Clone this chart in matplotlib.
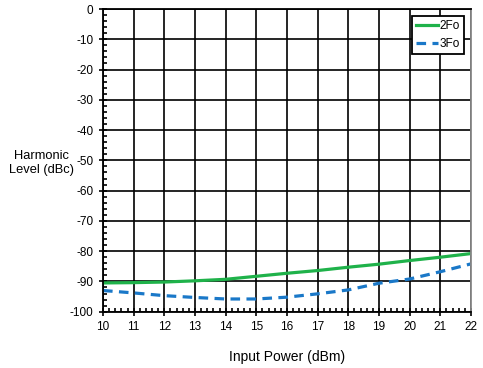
import matplotlib.pyplot as plt
from matplotlib.ticker import MultipleLocator

plt.rcParams["font.family"] = ["Liberation Sans", "DejaVu Sans"]
plt.rcParams["axes.unicode_minus"] = False

GREEN = "#1fb24a"
BLUE = "#1a78c8"

power = [10, 11, 12, 13, 14, 15, 16, 17, 18, 19, 20, 21, 22]
h2 = [-90.5, -90.4, -90.2, -89.8, -89.3, -88.3, -87.3, -86.4, -85.3, -84.3, -83.1, -82.0, -80.8]
h3 = [-93.0, -93.8, -94.7, -95.3, -95.8, -95.8, -95.2, -94.1, -92.8, -90.6, -89.2, -86.8, -84.2]
yticks = list(range(-100, 1, 10))


def main():
    fig = plt.figure(figsize=(4.83, 3.68), dpi=100)
    ax = fig.add_axes([0.2133, 0.153, 0.7617, 0.8225])

    ax.plot(power, h2, color=GREEN, linewidth=2.3, label="2Fo")
    ax.plot(power, h3, color=BLUE, linewidth=2.3, linestyle=(0, (3, 2)), label="3Fo")

    ax.set_xlim(10, 22)
    ax.set_ylim(-100, 0)
    ax.set_xticks(power)
    ax.set_yticks(yticks)
    ax.xaxis.set_minor_locator(MultipleLocator(0.2))
    ax.yaxis.set_minor_locator(MultipleLocator(2))
    ax.grid(True, which="major", color="black", linewidth=1.2)
    ax.tick_params(which="major", direction="inout", length=6, width=1.2, labelsize=8.5,
                   pad=4, top=False, right=False)
    ax.tick_params(which="minor", direction="in", length=3, width=1.2,
                   top=False, right=False)
    for spine in ax.spines.values():
        spine.set_linewidth(1.3)
    ax.spines["right"].set_color("#888888")
    ax.set_axisbelow(True)

    ax.set_xlabel("Input Power (dBm)", fontsize=10, labelpad=12)
    ax.set_ylabel("Harmonic\nLevel (dBc)", fontsize=9.3, rotation=0,
                  ha="center", va="center", multialignment="center")
    ax.yaxis.set_label_coords(-0.168, 0.49)

    leg = ax.legend(loc="upper right", fontsize=8.5, frameon=True, fancybox=False,
                    edgecolor="black", handlelength=1.9, handletextpad=0.15,
                    borderpad=0.3, labelspacing=0.55, borderaxespad=0.6)
    leg.get_frame().set_linewidth(1.3)
    leg.get_frame().set_alpha(1)

    fig.savefig("out.png", dpi=100, facecolor="white")
    plt.close(fig)


if __name__ == "__main__":
    main()
